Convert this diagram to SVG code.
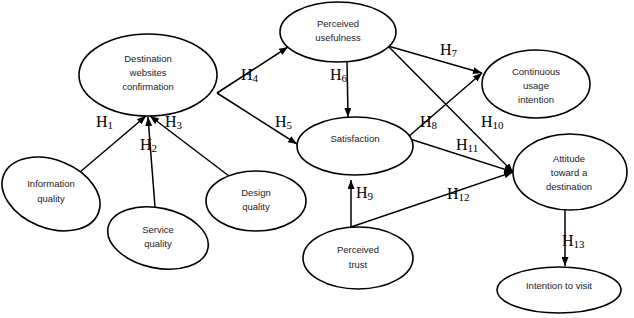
<svg xmlns="http://www.w3.org/2000/svg" width="634" height="318" viewBox="0 0 634 318">
<defs>
<style>
.n{fill:#fff;stroke:#000;stroke-width:1.6}
.t{font-family:"Liberation Sans",Arial,sans-serif;font-size:9.5px;fill:#222;text-anchor:middle}
.c line,.c polyline{stroke:#000;stroke-width:1.5;fill:none}
.h{font-family:"Liberation Serif","Times New Roman",serif;font-size:16px;fill:#000}
.s{font-size:11px}
</style>
<marker id="a" markerUnits="userSpaceOnUse" markerWidth="9" markerHeight="7" refX="9" refY="3.5" orient="auto">
<path d="M0,0 L9,3.5 L0,7 z" fill="#000"/>
</marker>
</defs>
<rect width="634" height="318" fill="#fff"/>
<g class="c" id="connectors">
<line x1="80" y1="172" x2="146" y2="116" marker-end="url(#a)"/>
<line x1="155" y1="207" x2="148" y2="117" marker-end="url(#a)"/>
<line x1="229" y1="176" x2="150" y2="116" marker-end="url(#a)"/>
<line x1="217" y1="93" x2="288" y2="47" marker-end="url(#a)"/>
<line x1="217" y1="93" x2="297" y2="144" marker-end="url(#a)"/>
<line x1="347" y1="60" x2="348" y2="117" marker-end="url(#a)"/>
<line x1="388" y1="46" x2="482" y2="73" marker-end="url(#a)"/>
<line x1="388" y1="46" x2="513" y2="172" marker-end="url(#a)"/>
<line x1="408" y1="137" x2="482" y2="73" marker-end="url(#a)"/>
<line x1="410" y1="139" x2="513" y2="172" marker-end="url(#a)"/>
<line x1="351" y1="227" x2="351" y2="180" marker-end="url(#a)"/>
<line x1="351" y1="227" x2="513" y2="172" marker-end="url(#a)"/>
<line x1="565" y1="200" x2="565" y2="266" marker-end="url(#a)"/>
</g>
<g id="dwc"><ellipse class="n" cx="148" cy="75" rx="69" ry="41"/>
<text class="t" x="148" y="62">Destination</text><text class="t" x="148" y="76">websites</text><text class="t" x="148" y="90">confirmation</text></g>
<g id="iq"><ellipse class="n" cx="51" cy="194" rx="51" ry="34" transform="rotate(22 51 194)"/>
<text class="t" x="51" y="187">Information</text><text class="t" x="51" y="202">quality</text></g>
<g id="sq"><ellipse class="n" cx="158" cy="238" rx="51" ry="30" transform="rotate(12 158 238)"/>
<text class="t" x="158" y="233">Service</text><text class="t" x="158" y="247">quality</text></g>
<g id="dq"><ellipse class="n" cx="256" cy="201" rx="50" ry="30"/>
<text class="t" x="256" y="196">Design</text><text class="t" x="256" y="210">quality</text></g>
<g id="pu"><ellipse class="n" cx="338" cy="32" rx="58" ry="30"/>
<text class="t" x="338" y="27">Perceived</text><text class="t" x="338" y="41">usefulness</text></g>
<g id="sat"><ellipse class="n" cx="355" cy="146" rx="58" ry="29"/>
<text class="t" x="355" y="142">Satisfaction</text></g>
<g id="cui"><ellipse class="n" cx="536" cy="84" rx="54" ry="34"/>
<text class="t" x="536" y="75">Continuous</text><text class="t" x="536" y="89">usage</text><text class="t" x="536" y="103">intention</text></g>
<g id="atd"><ellipse class="n" cx="570" cy="172" rx="57" ry="38"/>
<text class="t" x="569" y="162">Attitude</text><text class="t" x="569" y="176">toward a</text><text class="t" x="569" y="190">destination</text></g>
<g id="pt"><ellipse class="n" cx="358" cy="258" rx="55" ry="31"/>
<text class="t" x="358" y="253">Perceived</text><text class="t" x="358" y="268">trust</text></g>
<g id="itv"><ellipse class="n" cx="559" cy="290" rx="62" ry="23"/>
<text class="t" x="559" y="289">Intention to visit</text></g>
<g id="labels">
<text class="h" x="96" y="127">H<tspan class="s" dy="2">1</tspan></text>
<text class="h" x="140" y="150">H<tspan class="s" dy="2">2</tspan></text>
<text class="h" x="165" y="127">H<tspan class="s" dy="2">3</tspan></text>
<text class="h" x="241" y="80">H<tspan class="s" dy="2">4</tspan></text>
<text class="h" x="275" y="127">H<tspan class="s" dy="2">5</tspan></text>
<text class="h" x="330" y="80">H<tspan class="s" dy="2">6</tspan></text>
<text class="h" x="440" y="55">H<tspan class="s" dy="2">7</tspan></text>
<text class="h" x="420" y="127">H<tspan class="s" dy="2">8</tspan></text>
<text class="h" x="356" y="198">H<tspan class="s" dy="2">9</tspan></text>
<text class="h" x="481" y="127">H<tspan class="s" dy="2">10</tspan></text>
<text class="h" x="456" y="150">H<tspan class="s" dy="2">11</tspan></text>
<text class="h" x="447" y="199">H<tspan class="s" dy="2">12</tspan></text>
<text class="h" x="562" y="246">H<tspan class="s" dy="2">13</tspan></text>
</g>
</svg>
